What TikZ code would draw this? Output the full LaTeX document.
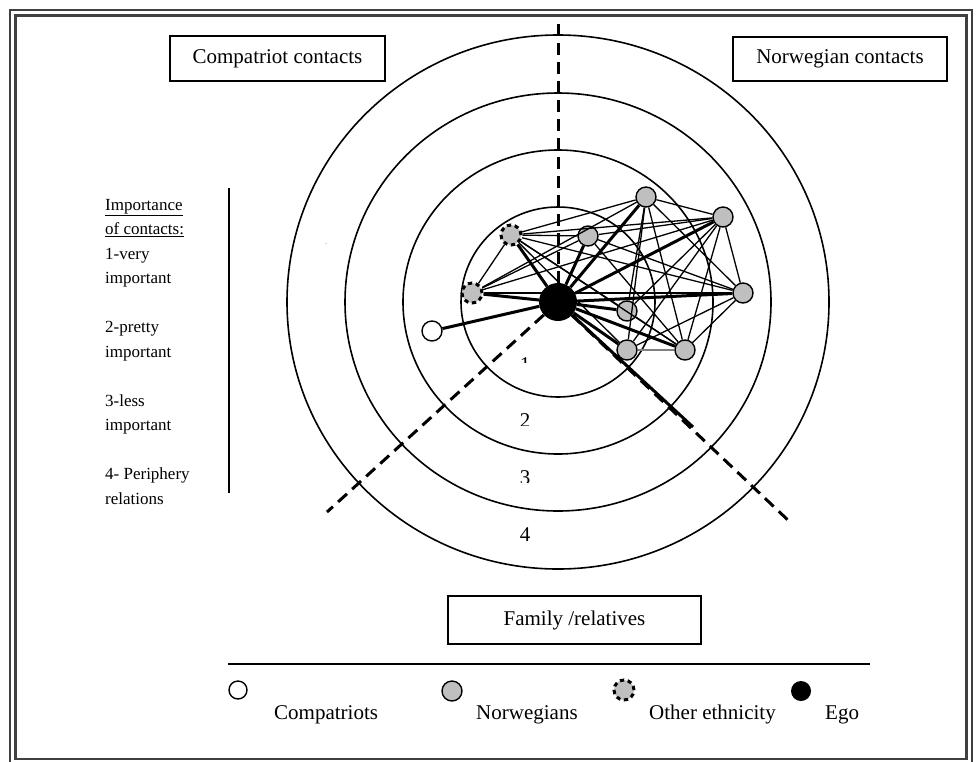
\documentclass[tikz,border=0pt]{standalone}
\usepackage{fontspec}
\setmainfont{Liberation Serif}
\usetikzlibrary{positioning}

\definecolor{nodegray}{gray}{0.75}
\definecolor{framegray}{gray}{0.25}
\newcommand{\boxfont}{\fontsize{21}{25}\selectfont}
\newcommand{\keyfont}{\fontsize{17}{24.5}\selectfont}

\tikzset{
  alter/.style={circle, draw, line width=1.4pt, minimum size=20pt, inner sep=0pt},
  compatriot/.style={alter, fill=white},
  norwegian/.style={alter, fill=nodegray},
  otherethnic/.style={alter, fill=nodegray, line width=3pt, dash pattern=on 4pt off 3.8pt},
  egonode/.style={circle, fill=black, minimum size=38pt, inner sep=0pt},
  tie/.style={line width=1.3pt},
  strongtie/.style={line width=3pt},
  sector/.style={line width=3pt, dash pattern=on 12pt off 7pt},
  ring/.style={line width=1.6pt},
  labelbox/.style={draw, line width=1.5pt, inner sep=0pt, font=\boxfont},
  keyline/.style={anchor=base west, inner sep=0pt, font=\keyfont},
  legendtext/.style={anchor=base west, inner sep=0pt, font=\boxfont},
  ringnum/.style={anchor=base, inner sep=0pt, font=\boxfont}
}

\begin{document}
\begin{tikzpicture}[x=1pt, y=-1pt]
  \useasboundingbox (0,0) rectangle (979,761);  % size of the figure
  \draw[framegray, line width=2.6pt] (10,10) rectangle (972,766);  % outer frame line
  \draw[framegray, line width=2.2pt] (15.5,15.5) rectangle (966.5,759);  % inner frame line

  % importance rings
  \coordinate (hub) at (558,302);
  \foreach \rx/\ry in {97/95, 155/152, 213/209, 271/267}
    \draw[ring] (hub) ellipse [x radius=\rx, y radius=\ry];

  % ring numbers, cut off at the bottom
  \begin{scope}
    \clip (505,350) rectangle (545,362);
    \node[ringnum] (num1) at (525,371) {1};
  \end{scope}
  \begin{scope}
    \clip (505,405) rectangle (545,425);
    \node[ringnum] (num2) at (525,427) {2};
  \end{scope}
  \begin{scope}
    \clip (505,462) rectangle (545,482);
    \node[ringnum] (num3) at (525,484) {3};
  \end{scope}
  \node[ringnum] (num4) at (525,541) {4};
  \node[font=\fontsize{6}{6}\selectfont, inner sep=0pt] (speck) at (326,244) {.};

  % sector boxes
  \node[labelbox, minimum width=215pt, minimum height=45pt] (compbox) at (277.5,58.5) {Compatriot contacts};
  \node[labelbox, minimum width=214pt, minimum height=44pt] (norbox) at (840,59) {Norwegian contacts};
  \node[labelbox, minimum width=253pt, minimum height=48pt] (fambox) at (574.5,620) {Family /relatives};

  % key to the rings
  \node[keyline] (imp1) at (105,210) {\underline{Importance}};
  \node[keyline] (imp2) at (105,234.5) {\underline{of contacts:}};
  \node[keyline] (imp3) at (105,259) {1-very};
  \node[keyline] (imp4) at (105,283.5) {important};
  \node[keyline] (imp5) at (105,332.5) {2-pretty};
  \node[keyline] (imp6) at (105,357) {important};
  \node[keyline] (imp7) at (105,406) {3-less};
  \node[keyline] (imp8) at (105,430.5) {important};
  \node[keyline] (imp9) at (105,479.5) {4- Periphery};
  \node[keyline] (imp10) at (105,504) {relations};
  \draw[line width=1.6pt] (229,188) -- (229,493);  % rule beside the key

  % network
  \node[egonode] (ego) at (hub) {};
  \node[compatriot] (comp) at (432,331) {};
  \node[otherethnic] (oeA) at (511,235) {};
  \node[otherethnic] (oeB) at (472,293) {};
  \node[norwegian] (nwA) at (588,236) {};
  \node[norwegian] (nwB) at (646,197) {};
  \node[norwegian] (nwC) at (723,217) {};
  \node[norwegian] (nwD) at (743,293) {};
  \node[norwegian] (nwE) at (627,311) {};
  \node[norwegian] (nwF) at (627,350) {};
  \node[norwegian] (nwG) at (685,350) {};

  % sector borders
  \coordinate (topend) at (558,17);
  \coordinate (leftend) at (327,512);
  \coordinate (rightend) at (790,522);
  \coordinate (tail) at (693,427);
  \draw[sector] (ego) -- (topend);
  \draw[sector] (ego) -- (leftend);
  \draw[sector] (ego) -- (rightend);

  % ties
  \foreach \a in {comp, oeA, oeB, nwA, nwB, nwC, nwD, nwE, nwF, nwG, tail}
    \draw[strongtie] (ego) -- (\a);
  \foreach \a/\b in {oeA/oeB, oeA/nwA, oeA/nwB, oeA/nwC, oeA/nwD, oeA/nwE, oeA/nwF, oeA/nwG,
                     oeB/nwA, oeB/nwB, oeB/nwC, oeB/nwD,
                     nwA/nwC, nwA/nwD, nwA/nwG,
                     nwB/nwC, nwB/nwD, nwB/nwE, nwB/nwF, nwB/nwG,
                     nwC/nwD, nwC/nwE, nwC/nwF, nwC/nwG,
                     nwD/nwF, nwD/nwG, nwE/nwG}
    \draw[tie] (\a) -- (\b);
  \draw[tie, gray] (nwF) -- (nwG);

  % legend
  \draw[line width=2pt] (228,664) -- (870,664);  % rule above the legend
  \node[compatriot, minimum size=18pt] (keycomp) at (238,690) {};
  \node[legendtext] (keycomptext) at (274,719) {Compatriots};
  \node[norwegian] (keynw) at (452,691) {};
  \node[legendtext] (keynwtext) at (476,719) {Norwegians};
  \node[otherethnic] (keyoe) at (624,690) {};
  \node[legendtext] (keyoetext) at (649,719) {Other ethnicity};
  \node[egonode, minimum size=20pt] (keyego) at (801,691) {};
  \node[legendtext] (keyegotext) at (825,719) {Ego};
\end{tikzpicture}
\end{document}
